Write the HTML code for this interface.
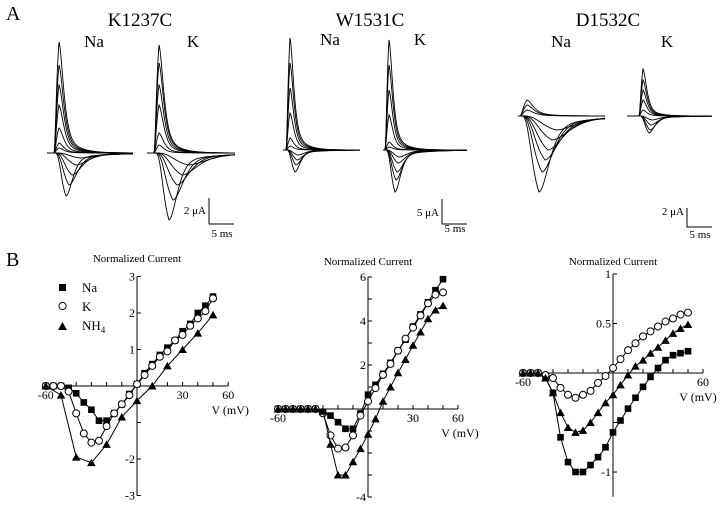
<!DOCTYPE html>
<html><head><meta charset="utf-8"><style>
html,body{margin:0;padding:0;background:#fff;}
svg{display:block;font-family:"Liberation Serif",serif;}
</style></head><body>
<svg id="fig" width="720" height="508" viewBox="0 0 720 508" xmlns="http://www.w3.org/2000/svg">
<text x="6" y="20" font-size="20">A</text>
<text x="140" y="26" font-size="19" text-anchor="middle">K1237C</text>
<text x="94" y="47" font-size="17" text-anchor="middle">Na</text>
<text x="193" y="47" font-size="17" text-anchor="middle">K</text>
<text x="370" y="26" font-size="19" text-anchor="middle">W1531C</text>
<text x="330" y="45" font-size="17" text-anchor="middle">Na</text>
<text x="420" y="45" font-size="17" text-anchor="middle">K</text>
<text x="608" y="26" font-size="19" text-anchor="middle">D1532C</text>
<text x="561" y="47" font-size="17" text-anchor="middle">Na</text>
<text x="667" y="47" font-size="17" text-anchor="middle">K</text>
<g id="traces" fill="none" stroke="#000" stroke-width="0.9"></g>
<g stroke="#000" stroke-width="1" fill="none"><path d="M209 198V224H234"/></g>
<text x="206" y="214" font-size="11" text-anchor="end">2 μA</text>
<text x="222" y="237" font-size="11" text-anchor="middle">5 ms</text>
<g stroke="#000" stroke-width="1" fill="none"><path d="M442 199V224H467"/></g>
<text x="439" y="216" font-size="11" text-anchor="end">5 μA</text>
<text x="455" y="232" font-size="11" text-anchor="middle">5 ms</text>
<g stroke="#000" stroke-width="1" fill="none"><path d="M687 208V227H712"/></g>
<text x="684" y="215" font-size="11" text-anchor="end">2 μA</text>
<text x="700" y="238" font-size="11" text-anchor="middle">5 ms</text>

<text x="6" y="266" font-size="20">B</text>
<g id="charts"></g>
<g>
<rect x="59" y="284" width="7" height="7" fill="#000"/>
<text x="82" y="292" font-size="13">Na</text>
<circle cx="62.5" cy="306" r="3.6" fill="#fff" stroke="#000"/>
<text x="82" y="311" font-size="13">K</text>
<path d="M62.5 322L67 330H58Z" fill="#000"/>
<text x="82" y="330" font-size="13">NH<tspan font-size="9" dy="3">4</tspan></text>
</g>
</svg>
<script>
// ---- Panel B data ----
const voltages5 = [-60,-55,-50,-45,-40,-35,-30,-25,-20,-15,-10,-5,0,5,10,15,20,25,30,35,40,45,50];
const voltages10 = [-60,-50,-40,-30,-20,-10,0,10,20,30,40,50];
const k1237cNa = [0,0,0,-0.05,-0.2,-0.45,-0.65,-0.95,-0.95,-0.75,-0.5,-0.22,0.05,0.35,0.6,0.85,1.05,1.25,1.5,1.7,2.0,2.2,2.45];
const k1237cK = [0,0,0,-0.15,-0.75,-1.3,-1.55,-1.5,-1.1,-0.75,-0.5,-0.25,0.05,0.3,0.55,0.8,0.95,1.25,1.4,1.65,1.85,2.05,2.4];
const k1237cNH4 = [0,-0.25,-1.95,-2.1,-1.6,-0.85,-0.4,0,0.55,1.0,1.45,1.95];
const w1531cNa = [0,0,0,0,0,0,-0.15,-0.3,-0.6,-0.9,-0.9,-0.2,0.65,1.1,1.6,2.1,2.65,3.15,3.75,4.3,4.85,5.4,5.9];
const w1531cK = [0,0,0,0,0,0,-0.2,-1.2,-1.8,-1.75,-1.2,-0.3,0.35,0.95,1.55,2.05,2.65,3.2,3.7,4.25,4.8,5.2,5.3];
const w1531cNH4 = [0,0,0,0,0,0,-0.1,-1.6,-3.0,-3.0,-2.4,-1.8,-1.15,-0.45,0.35,1.0,1.65,2.25,2.9,3.5,4.1,4.5,4.7];
const d1532cNa = [0,0,0,-0.05,-0.2,-0.65,-0.9,-1.0,-1.0,-0.93,-0.85,-0.75,-0.6,-0.48,-0.36,-0.25,-0.14,-0.04,0.05,0.13,0.18,0.2,0.22];
const d1532cK = [0,0,0,-0.02,-0.05,-0.15,-0.22,-0.25,-0.22,-0.18,-0.1,-0.03,0.05,0.14,0.23,0.3,0.37,0.42,0.47,0.52,0.55,0.59,0.61];
const d1532cNH4 = [0,0,0,-0.05,-0.2,-0.4,-0.55,-0.6,-0.58,-0.5,-0.4,-0.3,-0.22,-0.12,-0.02,0.07,0.13,0.2,0.26,0.33,0.4,0.45,0.49];
const yTicks1 = [-3,-2,-1,1,2,3];
const yLabels1 = ["-3","-2","","1","2","3"];
const yTicks2 = [-4,-3,-2,-1,1,2,3,4,5,6];
const yLabels2 = ["-4","","","","","2","","4","","6"];
const yTicks3 = [-1,-0.5,0.5,1];
const yLabels3 = ["-1","","0.5","1"];
const xTicks = [-60,-50,-40,-30,-20,-10,10,20,30,40,50,60];
const xLabels = {"-60":"-60","30":"30","60":"60"};
const xLabels3 = {"-60":"-60","60":"60"};

const NS="http://www.w3.org/2000/svg";
function mk(tag, attrs, parent){const e=document.createElementNS(NS,tag);for(const k in attrs)e.setAttribute(k,attrs[k]);parent.appendChild(e);return e;}
const charts=document.getElementById('charts');

function chart(cfg){
  const g=mk('g',{},charts);
  
  
  const xs=v=>cfg.x0+v*cfg.pxmv;
  const ys=v=>cfg.y0-v*cfg.pxu;
  const t=mk('text',{x:cfg.x0,y:cfg.titleY,'font-size':11,'text-anchor':'middle'},g);
  
  
  t.textContent='Normalized Current';
  const ax=mk('path',{d:`M${xs(-60)} ${cfg.y0}H${xs(60)}M${cfg.x0} ${ys(cfg.ymax)}V${ys(cfg.ymin)}`,stroke:'#000','stroke-width':1,fill:'none'},g);
  
  
  xTicks.forEach(v=>{
    mk('line',{x1:xs(v),x2:xs(v),y1:cfg.y0-4,y2:cfg.y0,stroke:'#000'},g);
    const lab=cfg.xl[String(v)];
    if(lab){const tx=mk('text',{x:xs(v),y:cfg.y0+13,'font-size':12,'text-anchor':'middle'},g);
      
      
      tx.textContent=lab;}
  });
  cfg.yt.forEach((v,i)=>{
    mk('line',{x1:cfg.x0,x2:cfg.x0+4,y1:ys(v),y2:ys(v),stroke:'#000'},g);
    if(cfg.yl[i]){const ty=mk('text',{x:cfg.x0-2,y:ys(v)+4,'font-size':12,'text-anchor':'end'},g);
      
      
      ty.textContent=cfg.yl[i];}
  });
  const xt=mk('text',{x:Math.min(xs(60)+2,698),y:cfg.y0+28,'font-size':12,'text-anchor':'middle'},g);
  
  
  xt.textContent='V (mV)';
  cfg.series.forEach(s=>{
    const pts=s.v.map((v,i)=>[xs(s.x[i]),ys(v)]);
    const ln=mk('polyline',{points:pts.map(p=>p.join(',')).join(' '),fill:'none',stroke:'#000','stroke-width':1},g);
    
    
    pts.forEach(p=>{
      let m;
      if(s.m==='sq') m=mk('rect',{x:p[0]-3.3,y:p[1]-3.3,width:6.6,height:6.6,fill:'#000'},g);
      else if(s.m==='ci') m=mk('circle',{cx:p[0],cy:p[1],r:3.5,fill:'#fff',stroke:'#000'},g);
      else m=mk('path',{d:`M${p[0]} ${p[1]-4}L${p[0]+4.3} ${p[1]+3.5}H${p[0]-4.3}Z`,fill:'#000'},g);
      
      
    });
  });
}
chart({name:'iv-chart-k1237c',x0:137,y0:386,pxmv:1.52,pxu:36.5,ymin:-3,ymax:3,titleY:262,yt:yTicks1,yl:yLabels1,xl:xLabels,
  series:[{name:'na',x:voltages5,v:k1237cNa,m:'sq'},{name:'k',x:voltages5,v:k1237cK,m:'ci'},{name:'nh4',x:voltages10,v:k1237cNH4,m:'tr'}]});
chart({name:'iv-chart-w1531c',x0:368,y0:409,pxmv:1.5,pxu:22,ymin:-4,ymax:6,titleY:265,yt:yTicks2,yl:yLabels2,xl:xLabels,
  series:[{name:'na',x:voltages5,v:w1531cNa,m:'sq'},{name:'k',x:voltages5,v:w1531cK,m:'ci'},{name:'nh4',x:voltages5,v:w1531cNH4,m:'tr'}]});
chart({name:'iv-chart-d1532c',x0:613,y0:373,pxmv:1.5,pxu:99,ymin:-1.25,ymax:1,titleY:265,yt:yTicks3,yl:yLabels3,xl:xLabels3,
  series:[{name:'na',x:voltages5,v:d1532cNa,m:'sq'},{name:'k',x:voltages5,v:d1532cK,m:'ci'},{name:'nh4',x:voltages5,v:d1532cNH4,m:'tr'}]});

// ---- Panel A traces ----
const trGroups = [
  {name:'k1237c-na',base:153,x0:47,x1:133,on:54,out:[-111,-88,-68,-48,-25,-10,-5],outDelay:5,neg:[5,12,22,32,43],negDelay:[26,22,18,15,12]},
  {name:'k1237c-k',base:153,x0:147,x1:235,on:154,out:[-108,-90,-68,-48,-20,-8],outDelay:5,neg:[12,22,32,47,67],negDelay:[34,28,23,19,15]},
  {name:'w1531c-na',base:150,x0:283,x1:360,on:286,out:[-112,-87,-62,-37,-12,-4],outDelay:4,neg:[5,10,15,22],negDelay:[12,11,10,9]},
  {name:'w1531c-k',base:150,x0:383,x1:467,on:385,out:[-110,-85,-60,-35,-8,-3],outDelay:4,neg:[7,13,22,30,42],negDelay:[14,13,12,11,10]},
  {name:'d1532c-na',base:116,x0:518,x1:605,on:520,out:[-16,-11,-6],outDelay:7,neg:[14,24,34,44,56,76],negDelay:[36,32,28,25,22,19]},
  {name:'d1532c-k',base:116,x0:627,x1:712,on:639,out:[-47,-36,-26,-16,-6],outDelay:4,neg:[4,9,14,17],negDelay:[13,12,11,10]}
];
const tr=document.getElementById('traces');
trGroups.forEach(gp=>{
  const g=mk('g',{},tr);
  
  
  const draw=(amp,tp,n,tail)=>{
    let d=`M${gp.x0} ${gp.base}`;
    for(let x=gp.x0;x<=gp.x1;x+=0.5){
      const t=x-gp.on;
      let v=0;
      if(t>0){const r=t/tp; v=(1-tail)*Math.pow(r,n)*Math.exp(n*(1-r)) + tail*Math.pow(Math.min(r,1),n)*Math.exp(-Math.max(t-tp,0)/(tp*2.5));}
      d+=`L${x} ${(gp.base+amp*v).toFixed(2)}`;
    }
    const p=mk('path',{d:d},g);
    
    
  };
  gp.out.forEach(a=>draw(a,gp.outDelay,2.2,0.25));
  gp.neg.forEach((a,i)=>draw(a,gp.negDelay[i],5,0.15));
});
</script>
</body></html>
